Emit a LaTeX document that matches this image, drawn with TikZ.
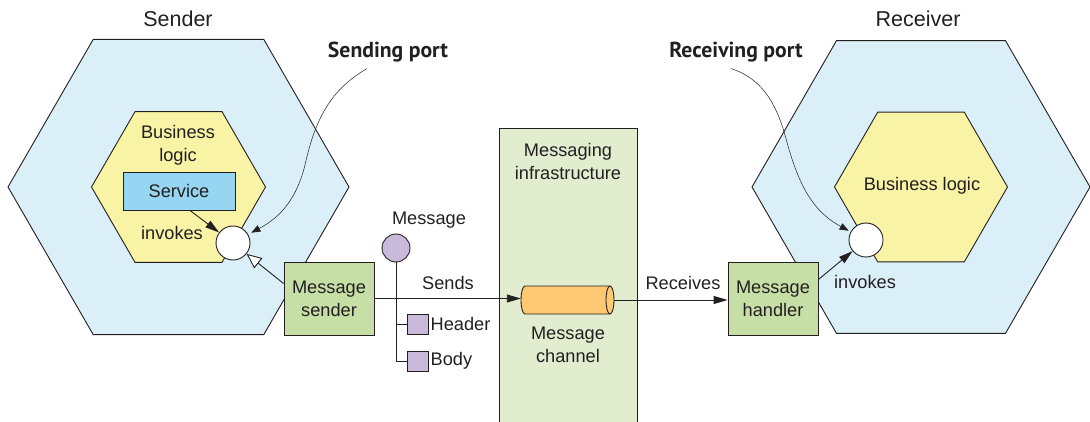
\documentclass[tikz,border=0pt]{standalone}
\usepackage{fontspec}
\setmainfont{Liberation Sans}
\newfontfamily\portfont{PT Sans}
\usetikzlibrary{arrows.meta}

\definecolor{hexblue}{HTML}{DAEFF8}
\definecolor{logicyellow}{HTML}{F9F3A5}
\definecolor{serviceblue}{HTML}{96D6F2}
\definecolor{boxgreen}{HTML}{C6DFA6}
\definecolor{infragreen}{HTML}{E2EDCF}
\definecolor{msgpurple}{HTML}{C9BADB}
\definecolor{chanorange}{HTML}{FFC872}
\definecolor{inkgray}{HTML}{231F20}

\tikzset{
  hexouter/.style={fill=hexblue,draw=inkgray,line width=0.9pt},
  hexinner/.style={fill=logicyellow,draw=inkgray,line width=0.9pt},
  servicebox/.style={draw=inkgray,fill=serviceblue,line width=0.9pt,minimum width=112pt,minimum height=38pt,inner sep=0pt},
  msgbox/.style={draw=inkgray,fill=boxgreen,line width=0.9pt,minimum width=90pt,minimum height=73pt,align=center,inner sep=0pt},
  portdot/.style={circle,draw=inkgray,fill=white,line width=0.9pt,minimum size=34pt,inner sep=0pt},
  partbox/.style={draw=inkgray,fill=msgpurple,line width=0.9pt,minimum width=21pt,minimum height=20pt,inner sep=0pt},
  flow/.style={draw=inkgray,line width=0.9pt,-{Triangle[length=14pt,width=8pt]}},
  pointer/.style={draw=inkgray,line width=0.5pt,-{Triangle[length=9pt,width=7pt]}},
  portlabel/.style={font=\portfont\bfseries\fontsize{21.7}{25}\selectfont},
  sidetitle/.style={font=\fontsize{21.5}{25}\selectfont}
}

\newcommand{\hexat}[3]{%
  \draw[#3] (#1) +(0:#2) -- +(60:#2) -- +(120:#2) -- +(180:#2) -- +(240:#2) -- +(300:#2) -- cycle;}

\begin{document}
\begin{tikzpicture}[x=1pt,y=-1pt,text=inkgray,font=\fontsize{18.2}{23}\selectfont]
\useasboundingbox (0,0) rectangle (1090,422);

% sender side
\coordinate (sendc) at (178.5,187);
\hexat{sendc}{170.5}{hexouter}
\hexat{sendc}{87}{hexinner}
\node[sidetitle] (sendtitle) at (178,19) {Sender};
\node[align=center] (sendlogic) at (178,145) {Business\\logic};
\node[servicebox] (service) at (179,191) {Service};
\node (sendinvokes) at (172,233) {invokes};
\node[portdot] (sendport) at (233,243) {};
\node[msgbox] (sender) at (329,298.5) {Message\\sender};
\draw[flow] ([xshift=11pt]service.south) -- (sendport);
\draw[draw=inkgray,line width=0.9pt,-{Triangle[open,fill=white,length=15pt,width=13pt]}] ([yshift=15pt]sender.west) -- (sendport);

\node[portlabel] (sendportlabel) at (388,52) {Sending port};
\draw[pointer] ([xshift=-21pt,yshift=-3pt]sendportlabel.south) .. controls (330,90) and (315,120) .. (305,165)
  .. controls (295,205) and (275,220) .. ([shift={(6pt,-2pt)}]sendport.north east);

% messaging infrastructure
\node[draw=inkgray,fill=infragreen,line width=0.9pt,minimum width=138pt,minimum height=298pt,inner sep=0pt] (infra) at (568,277) {};
\node[align=center] (infralabel) at (568,161) {Messaging\\infrastructure};
\node[minimum width=93pt,minimum height=28pt,inner sep=0pt] (channel) at (567.5,300) {};
\draw[draw=inkgray,fill=chanorange,line width=0.9pt] (525,286) arc[start angle=90,end angle=270,x radius=4pt,y radius=14pt]
  -- (610,314) arc[start angle=270,end angle=450,x radius=4pt,y radius=14pt] -- cycle;
\draw[draw=inkgray,line width=0.9pt] (610,286) arc[start angle=90,end angle=270,x radius=4pt,y radius=14pt];
\node[align=center] (chanlabel) at (568,345) {Message\\channel};

% message
\node[circle,draw=inkgray,fill=msgpurple,line width=0.9pt,minimum size=28pt,inner sep=0pt] (msg) at (396,248) {};
\node (msglabel) at (429,220) {Message};
\node[partbox] (header) at (417.5,324) {};
\node[partbox] (body) at (417.5,361) {};
\node[anchor=west,inner sep=2pt] (headerlabel) at (header.east) {Header};
\node[anchor=west,inner sep=2pt] (bodylabel) at (body.east) {Body};
\draw[draw=inkgray,line width=0.9pt] (msg.south) |- (body.west);
\draw[draw=inkgray,line width=0.9pt] (msg.south |- header.west) -- (header.west);

\draw[flow] (sender.east) -- (sender.east -| channel.west);
\node (sends) at (448,283) {Sends};

% receiver side
\coordinate (recvc) at (921,187);
\hexat{recvc}{169}{hexouter}
\hexat{recvc}{86.5}{hexinner}
\node[sidetitle] (recvtitle) at (918,19) {Receiver};
\node (recvlogic) at (922,186) {Business logic};
\node[portdot] (recvport) at (866,240) {};
\node[msgbox] (handler) at (773,298.5) {Message\\handler};
\node (recvinvokes) at (865,282) {invokes};
\draw[flow] (channel.east) -- (channel.east -| handler.west);
\node (receives) at (683,283) {Receives};
\draw[flow] ([yshift=19pt]handler.east) -- (recvport);

\node[portlabel] (recvportlabel) at (736,52) {Receiving port};
\draw[pointer] ([xshift=-5pt,yshift=-3pt]recvportlabel.south) .. controls (760,78) and (775,100) .. (785,135)
  .. controls (797,180) and (810,210) .. ([shift={(-5pt,-3pt)}]recvport.north west);
\end{tikzpicture}
\end{document}
